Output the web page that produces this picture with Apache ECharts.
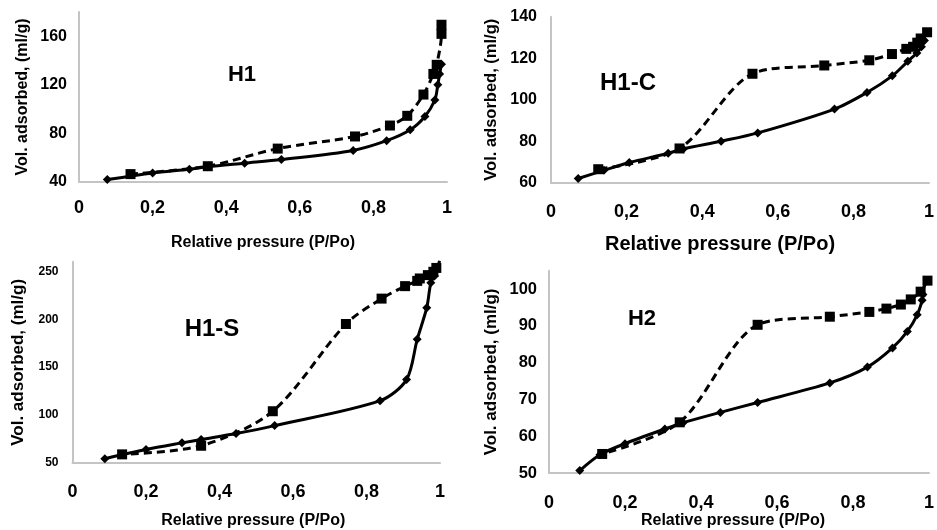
<!DOCTYPE html>
<html>
<head>
<meta charset="utf-8">
<script src="https://cdn.jsdelivr.net/npm/echarts@6/dist/echarts.min.js"></script>
<style>
  html, body { margin: 0; background: #fff; }
  #chart { width: 937px; height: 530px; }
</style>
</head>
<body>
<div id="chart"></div>
<script>
// isotherms, [P/Po, ml/g]; ads = solid line with diamonds, des = dashed with squares
var h1Ads = [[0.077, 42], [0.2, 47.5], [0.3, 50.5], [0.35, 52.5], [0.45, 55.5], [0.55, 58.5], [0.745, 66],
  [0.836, 74], [0.9, 83], [0.94, 94], [0.967, 107.5], [0.975, 120], [0.98, 129], [0.985, 137]];
var h1Des = [[0.985, 169.5], [0.985, 162], [0.972, 136.5], [0.963, 129], [0.936, 112], [0.892, 94.5],
  [0.845, 86.5], [0.75, 77.5], [0.54, 67.5], [0.35, 53], [0.14, 46.5]];

var h1cAds = [[0.072, 62], [0.14, 66], [0.207, 69.7], [0.31, 74.2], [0.35, 76.3], [0.45, 80], [0.547, 84],
  [0.75, 95.5], [0.836, 103.5], [0.903, 111.5], [0.944, 118.5], [0.968, 122.5], [0.98, 125.5], [0.988, 128.5]];
var h1cDes = [[0.995, 132.5], [0.978, 129.5], [0.969, 127.5], [0.958, 125.5], [0.94, 124.5], [0.902, 122],
  [0.842, 119], [0.723, 116.5], [0.533, 112.5], [0.34, 76.5], [0.125, 66.5]];

var h1sAds = [[0.088, 54.5], [0.2, 64], [0.298, 71], [0.35, 74.5], [0.445, 80.7], [0.55, 89], [0.837, 115],
  [0.909, 137], [0.938, 179], [0.964, 212], [0.975, 238], [0.985, 245], [0.999, 261]];
var h1sDes = [[0.99, 253.5], [0.982, 249.5], [0.967, 246], [0.945, 242.5], [0.938, 240], [0.905, 234.5],
  [0.841, 221.5], [0.744, 195], [0.545, 104], [0.35, 68], [0.135, 59]];

var h2Ads = [[0.081, 50.7], [0.134, 55], [0.2, 58], [0.305, 62], [0.353, 63.7], [0.451, 66.5], [0.549, 69.2],
  [0.739, 74.5], [0.838, 78.8], [0.904, 84], [0.943, 88.5], [0.969, 93], [0.982, 97], [0.984, 98.5]];
var h2Des = [[0.996, 102.3], [0.978, 99.3], [0.952, 97.2], [0.926, 95.8], [0.888, 94.7], [0.843, 93.8],
  [0.739, 92.5], [0.549, 90.3], [0.344, 63.8], [0.14, 55.2]];

var sampleNames = ["H1", "H1-C", "H1-S", "H2"];
var adsData = [h1Ads, h1cAds, h1sAds, h2Ads];
var desData = [h1Des, h1cDes, h1sDes, h2Des];
var yMin = [40, 60, 50, 50];
var yMax = [180, 140, 260, 105];
var yStep = [40, 20, 50, 10];
var showTopLabel = [false, true, false, false];

var xTitle = "Relative pressure (P/Po)";
var yTitle = "Vol. adsorbed, (ml/g)";

var FONT = "Liberation Sans, Arial, sans-serif";

// layout of the four panels (pixels)
var panels = [
  { left: 79, right: 490, top: 12, bottom: 348, yLab: 16, yGap: 12, xLab: 18, xMargin: 17, xName: 16, xNameGap: 53, xShift: 0, yName: 16, yNameGap: 48, tx: 242, ty: 75, tSize: 22 },
  { left: 551, right: 7, top: 16.7, bottom: 347.3, yLab: 16, yGap: 14, xLab: 18, xMargin: 20, xName: 20, xNameGap: 52, xShift: 40, yName: 16.5, yNameGap: 51, tx: 628, ty: 83, tSize: 24 },
  { left: 72.5, right: 497, top: 261.7, bottom: 66.6, yLab: 12, yGap: 14, xLab: 18, xMargin: 20, xName: 16, xNameGap: 50, xShift: 6, yName: 17, yNameGap: 46, tx: 212, ty: 329, tSize: 24 },
  { left: 549, right: 7, top: 270.7, bottom: 52.3, yLab: 16.5, yGap: 12, xLab: 18, xMargin: 21, xName: 16, xNameGap: 33, xShift: 12, yName: 17, yNameGap: 49, tx: 642, ty: 319, tSize: 22 }
];

var grid = [], xAxis = [], yAxis = [], series = [], graphic = [];

panels.forEach(function (p, i) {
  grid.push({ left: p.left, right: p.right, top: p.top, bottom: p.bottom, containLabel: false });
  xAxis.push({
    type: "value", gridIndex: i, min: 0, max: 1, interval: 0.2,
    axisLine: { show: true, lineStyle: { color: "#c4c4c4", width: 2 } },
    axisTick: { show: false },
    splitLine: { show: false },
    axisLabel: {
      margin: p.xMargin, color: "#000", fontWeight: "bold", fontSize: p.xLab, fontFamily: FONT,
      formatter: function (v) { return String(+v.toFixed(1)).replace(".", ","); }
    },
    name: xTitle, nameLocation: "middle", nameGap: p.xNameGap,
    nameTextStyle: { color: "#000", fontWeight: "bold", fontSize: p.xName, fontFamily: FONT, padding: [0, p.xShift, 0, 0] }
  });
  yAxis.push({
    type: "value", gridIndex: i, min: yMin[i], max: yMax[i], interval: yStep[i],
    axisLine: { show: true, lineStyle: { color: "#c4c4c4", width: 2 } },
    axisTick: { show: false },
    splitLine: { show: false },
    axisLabel: {
      margin: p.yGap, color: "#000", fontWeight: "bold", fontSize: p.yLab, fontFamily: FONT,
      showMaxLabel: showTopLabel[i]
    },
    name: yTitle, nameLocation: "middle", nameGap: p.yNameGap,
    nameTextStyle: { color: "#000", fontWeight: "bold", fontSize: p.yName, fontFamily: FONT }
  });
  series.push({
    type: "line", xAxisIndex: i, yAxisIndex: i, data: adsData[i], smooth: 0.3,
    symbol: "diamond", symbolSize: 9,
    lineStyle: { color: "#000", width: 3 },
    itemStyle: { color: "#000" }
  });
  series.push({
    type: "line", xAxisIndex: i, yAxisIndex: i, data: desData[i], smooth: 0.3,
    symbol: "rect", symbolSize: 10,
    lineStyle: { color: "#000", width: 3, type: [8, 5] },
    itemStyle: { color: "#000" }
  });
  graphic.push({
    type: "text", x: p.tx, y: p.ty,
    style: { text: sampleNames[i], fill: "#000", font: "bold " + p.tSize + "px " + FONT, align: "center", verticalAlign: "middle" }
  });
});

var myChart = echarts.init(document.getElementById("chart"));
myChart.setOption({
  animation: false,
  backgroundColor: "#fff",
  grid: grid,
  xAxis: xAxis,
  yAxis: yAxis,
  series: series,
  graphic: graphic
});
window.addEventListener("resize", function () { myChart.resize(); });
</script>
</body>
</html>
